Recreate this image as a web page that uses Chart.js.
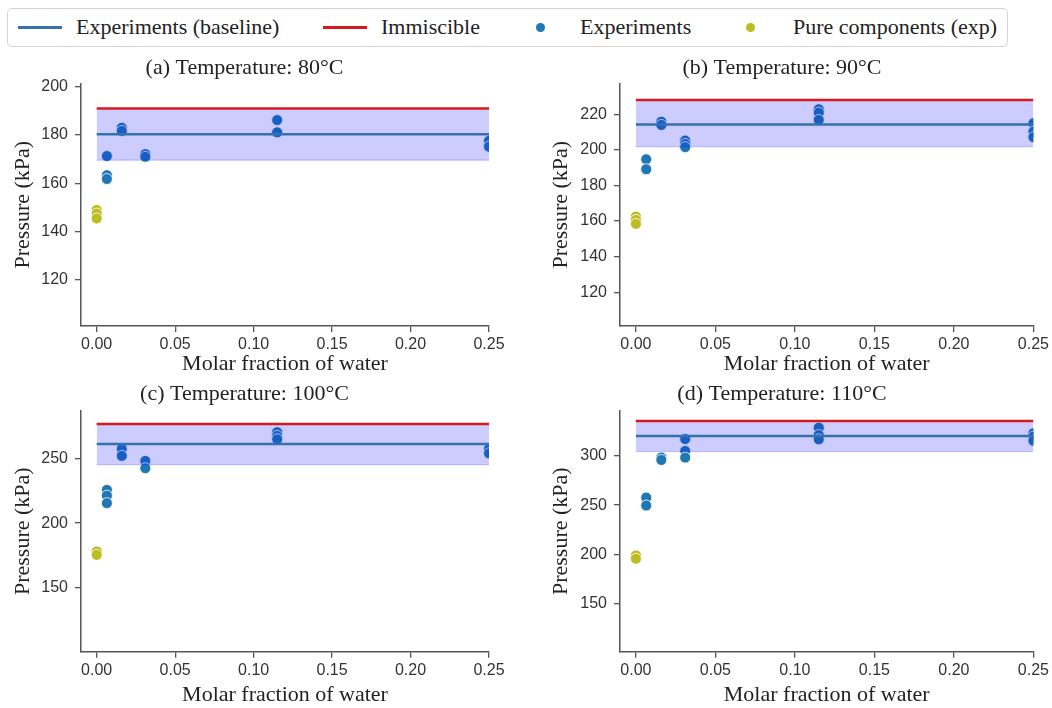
<!DOCTYPE html>
<html>
<head>
<meta charset="utf-8">
<script src="https://cdn.jsdelivr.net/npm/chart.js@4.4.0/dist/chart.umd.min.js"></script>
<style>
body { margin:0; background:#fff; width:1052px; height:708px; position:relative; overflow:hidden; font-family:'Liberation Serif', serif; }
canvas { position:absolute; }
#legend { position:absolute; left:7px; top:8px; width:1001px; height:39px; border:1.5px solid #d4d4d4; border-radius:5px; box-sizing:border-box; background:#fff; }
.txt { position:absolute; top:0; height:36px; line-height:36px; font-size:22px; color:#222; white-space:nowrap; }
.ln { position:absolute; top:17px; width:44px; height:3px; }
.dot { position:absolute; top:14px; width:9px; height:9px; border-radius:50%; }
</style>
</head>
<body>
<div id="legend">
  <div class="ln" style="left:10px;background:#3372ad"></div><div class="txt" style="left:68px">Experiments (baseline)</div>
  <div class="ln" style="left:315px;background:#d7191c"></div><div class="txt" style="left:373px">Immiscible</div>
  <div class="dot" style="left:528px;background:#1f77b4"></div><div class="txt" style="left:572px">Experiments</div>
  <div class="dot" style="left:738px;background:#bcbd22"></div><div class="txt" style="left:785px">Pure components (exp)</div>
</div>
<canvas id="c0" width="530" height="330" style="left:0;top:50px"></canvas>
<canvas id="c1" width="522" height="330" style="left:530px;top:50px"></canvas>
<canvas id="c2" width="530" height="328" style="left:0;top:380px"></canvas>
<canvas id="c3" width="522" height="328" style="left:530px;top:380px"></canvas>
<script>
// data
const titles = ['(a) Temperature: 80°C', '(b) Temperature: 90°C', '(c) Temperature: 100°C', '(d) Temperature: 110°C'];
const xTicks = [0, 0.05, 0.10, 0.15, 0.20, 0.25];
const yTicks = [[120,140,160,180,200], [120,140,160,180,200,220], [150,200,250], [150,200,250,300]];
const yMin = [101, 101, 101, 101];
const yMax = [201.4, 237.4, 286.6, 346];

const baseline   = [180.3, 214.2, 261.0, 320.3];
const immiscible = [191.0, 228.0, 276.4, 335.5];
const bandLow    = [169.6, 201.7, 245.0, 304.4];
const bandHigh   = [191.0, 228.0, 276.4, 335.5];

const waterFrac = [0.0065, 0.016, 0.031, 0.115, 0.25];
const exp80  = [[171.3,163.4,161.8], [183.0,181.7], [172.1,171.0], [186.2,181.1], [177.6,175.2]];
const exp90  = [[194.7,189.1], [215.8,214.0], [205.2,203.3,201.5], [222.8,220.9,216.8], [214.9,210.2,207.1]];
const exp100 = [[225.6,221.2,215.4], [257.2,251.8], [247.9,242.3], [270.0,267.2,264.6], [257.2,253.8]];
const exp110 = [[257.7,249.6], [298.3,295.9], [317.2,305.1,298.3], [328.7,321.3,316.9], [323.0,319.6,315.5]];
const pure   = [[149.0,147.5,145.5], [162.5,160.6,158.4], [178.2,175.6], [198.9,195.5]];
const expAll = [exp80, exp90, exp100, exp110];

// layout of each panel (pixels)
const geo = [
  { left:81, right:41, xH:54,   titleTop:4.8, titleBot:2.1, yPad:9.8,  xPad:2.8 },
  { left:90, right:18, xH:54,   titleTop:4.8, titleBot:2.1, yPad:18.5, xPad:2.8 },
  { left:81, right:41, xH:56.3, titleTop:0.8, titleBot:3.5, yPad:9.8,  xPad:0 },
  { left:90, right:18, xH:56.3, titleTop:0.8, titleBot:3.5, yPad:18.5, xPad:0 }
];

const serif = 'Liberation Serif';
const sans = 'Liberation Sans';
const spine = '#555';

function seg(v) { return [{x:0, y:v}, {x:0.25, y:v}]; }

function makePanel(i) {
  const g = geo[i];
  const pts = [];
  expAll[i].forEach((ys, k) => ys.forEach(y => pts.push({x: waterFrac[k], y: y})));
  const purePts = pure[i].map(y => ({x: 0, y: y}));

  new Chart(document.getElementById('c' + i), {
    type: 'scatter',
    data: { datasets: [
      { label:'band low', data: seg(bandLow[i]), showLine:true, pointRadius:0, borderColor:'rgba(0,0,255,0.22)', borderWidth:1, fill:false, order:1 },
      { label:'band', data: seg(bandHigh[i]), showLine:true, pointRadius:0, borderColor:'rgba(0,0,255,0.22)', borderWidth:1, fill:'-1', backgroundColor:'rgba(0,0,255,0.2)', order:1 },
      { label:'Experiments (baseline)', data: seg(baseline[i]), showLine:true, pointRadius:0, borderColor:'#3372ad', borderWidth:2.5, order:0 },
      { label:'Immiscible', data: seg(immiscible[i]), showLine:true, pointRadius:0, borderColor:'#d7191c', borderWidth:2.5, order:0 },
      { label:'Experiments', data: pts, pointRadius:5.5, backgroundColor:'#1f77b4', borderColor:'#fff', borderWidth:0.8, clip:0, order:2 },
      { label:'Pure components (exp)', data: purePts, pointRadius:5.5, backgroundColor:'#bcbd22', borderColor:'#fff', borderWidth:0.8, clip:0, order:2 }
    ]},
    options: {
      responsive:false, animation:false, devicePixelRatio:1,
      layout: { padding: { left:0, right:g.right, top:0, bottom:0 } },
      plugins: {
        legend: { display:false },
        tooltip: { enabled:false },
        title: { display:true, text:titles[i], color:'#222', font:{ family:serif, size:22, weight:'normal' }, padding:{ top:g.titleTop, bottom:g.titleBot } }
      },
      scales: {
        x: {
          type:'linear', min:-0.01, max:0.25,
          afterBuildTicks: s => { s.ticks = xTicks.map(v => ({value:v})); },
          afterFit: s => { s.height = g.xH; },
          ticks: { color:'#333', font:{ family:sans, size:16 }, padding:3, maxRotation:0, callback: v => v.toFixed(2) },
          grid: { display:true, drawOnChartArea:false, drawTicks:true, tickLength:6, color:spine, lineWidth:1.3 },
          border: { display:true, color:spine, width:1.5 },
          title: { display:true, text:'Molar fraction of water', color:'#222', font:{ family:serif, size:22, weight:'normal' }, padding:{ top:0, bottom:g.xPad } }
        },
        y: {
          type:'linear', min:yMin[i], max:yMax[i],
          afterBuildTicks: s => { s.ticks = yTicks[i].map(v => ({value:v})); },
          afterFit: s => { s.width = g.left; },
          ticks: { color:'#333', font:{ family:sans, size:16 }, padding:7 },
          grid: { display:true, drawOnChartArea:false, drawTicks:true, tickLength:6, color:spine, lineWidth:1.3 },
          border: { display:true, color:spine, width:1.5 },
          title: { display:true, text:'Pressure (kPa)', color:'#222', font:{ family:serif, size:22, weight:'normal' }, padding:{ top:g.yPad, bottom:0 } }
        }
      }
    }
  });
}

[0, 1, 2, 3].forEach(makePanel);
</script>
</body>
</html>
